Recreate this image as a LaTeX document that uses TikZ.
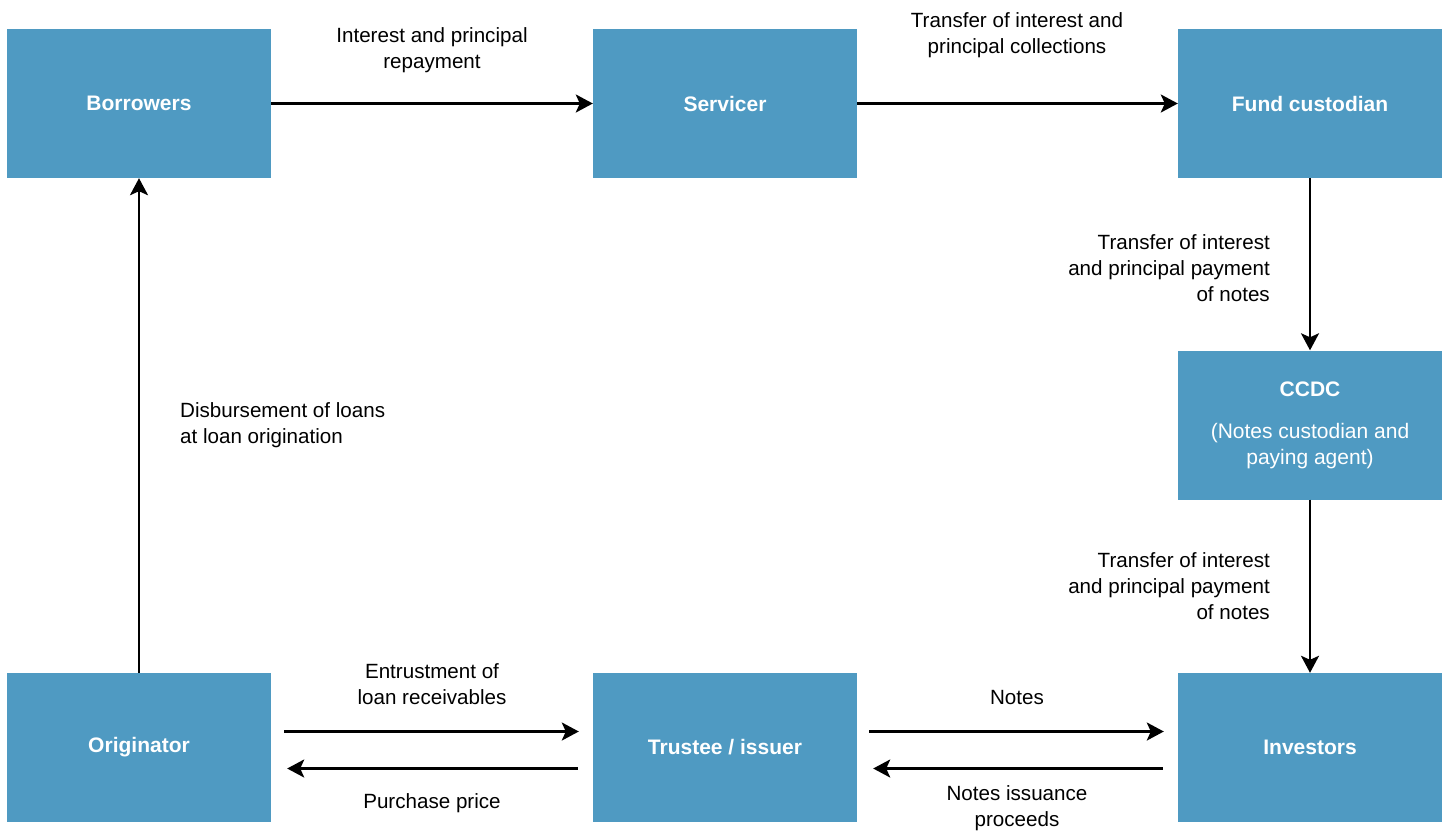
\documentclass[tikz,border=0pt]{standalone}
\usepackage{fontspec}
\setmainfont{Liberation Sans}
\usetikzlibrary{arrows.meta}
\definecolor{boxblue}{HTML}{4F9AC2}

\begin{document}
\begin{tikzpicture}[x=1pt,y=-1pt,
  party/.style={fill=boxblue, minimum width=264pt, minimum height=149pt, inner sep=0pt,
    text=white, align=center, font=\fontsize{21}{26}\selectfont\bfseries},
  flow/.style={line width=2.6pt, -{Stealth[length=17pt,width=18pt,inset=4pt]}},
  note/.style={inner sep=0pt, font=\fontsize{20.6}{26}\selectfont}]
\useasboundingbox (0,0) rectangle (1445,831);
% parties
\node[party] (borrow)  at (139,103.5) {Borrowers};
\node[party] (service) at (725,103.5) {Servicer};
\node[party] (fund)    at (1310,103.5) {Fund custodian};
\node[party] (ccdc)    at (1310,425) {CCDC\\[16pt]\mdseries (Notes custodian and\\ \mdseries paying agent)};
\node[party] (orig)    at (139,747.5) {Originator};
\node[party] (trust)   at (725,747.5) {Trustee / issuer};
\node[party] (invest)  at (1310,747.5) {Investors};
% flows
\draw[flow] (borrow) -- (service);
\draw[flow] (service) -- (fund);
\draw[flow] (fund) -- (ccdc);
\draw[flow] (ccdc) -- (invest);
\draw[flow] (orig) -- (borrow);
\draw[flow] ([shift={(13,-16)}]orig.east) -- ([shift={(-14,-16)}]trust.west);
\draw[flow] ([shift={(-15,21)}]trust.west) -- ([shift={(16,21)}]orig.east);
\draw[flow] ([shift={(12,-16)}]trust.east) -- ([shift={(-14,-16)}]invest.west);
\draw[flow] ([shift={(-15,21)}]invest.west) -- ([shift={(16,21)}]trust.east);
% labels
\node[note, align=center] (l1) at (432,50) {Interest and principal\\repayment};
\node[note, align=center] (l2) at (1017,35) {Transfer of interest and\\principal collections};
\node[note, align=right, anchor=east] (l3) at (1270,268) {Transfer of interest\\and principal payment\\of notes};
\node[note, align=right, anchor=east] (l4) at (1270,586) {Transfer of interest\\and principal payment\\of notes};
\node[note, align=left, anchor=west] (l5) at (180,425) {Disbursement of loans\\at loan origination};
\node[note, align=center] (l6) at (432,684) {Entrustment of\\loan receivables};
\node[note] (l7) at (432,803) {Purchase price};
\node[note] (l8) at (1017,697) {Notes};
\node[note, align=center] (l9) at (1017,808) {Notes issuance\\proceeds};
\end{tikzpicture}
\end{document}
